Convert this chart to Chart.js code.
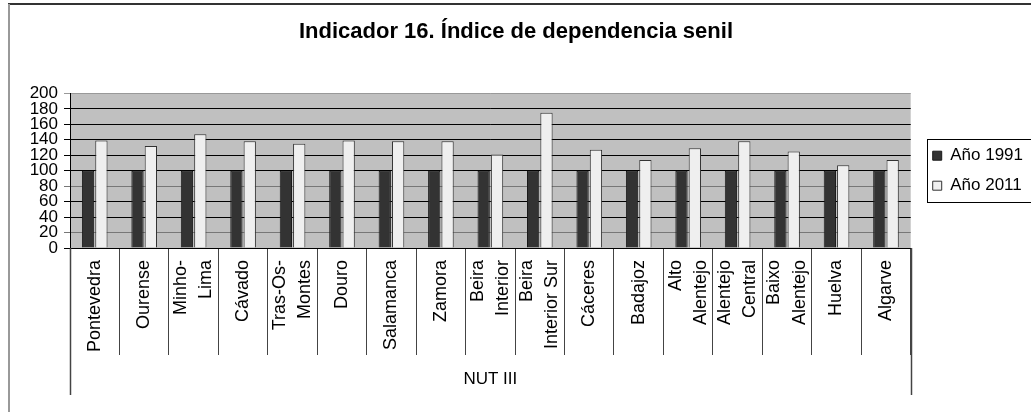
<!DOCTYPE html>
<html>
<head>
<meta charset="utf-8">
<script src="https://cdn.jsdelivr.net/npm/chart.js@4.4.1/dist/chart.umd.min.js"></script>
<style>
  html, body { margin: 0; padding: 0; background: #fff; }
  #wrap { width: 1031px; height: 412px; }
</style>
</head>
<body>
<div id="wrap"><canvas id="chart" width="1031" height="412"></canvas></div>
<script>
// Chart data
const chartTitle = "Indicador 16. Índice de dependencia senil";
const xAxisTitle = "NUT III";
const regions = [
  "Pontevedra", "Ourense", ["Minho-", "Lima"], "Cávado", ["Tras-Os-", "Montes"],
  "Douro", "Salamanca", "Zamora", ["Beira", "Interior"], ["Beira", "Interior Sur"],
  "Cáceres", "Badajoz", ["Alto", "Alentejo"], ["Alentejo", "Central"],
  ["Baixo", "Alentejo"], "Huelva", "Algarve"
];
const seriesNames = ["Año 1991", "Año 2011"];
const values1991 = [100, 100, 100, 100, 100, 100, 100, 100, 100, 100, 100, 100, 100, 100, 100, 100, 100];
const values2011 = [139, 132, 147, 138, 135, 139, 138, 138, 121, 175, 127, 114, 129, 138, 125, 107, 114];
const yMin = 0;
const yMax = 200;
const yStep = 20;

const FONT = "'Liberation Sans', Arial, sans-serif";

// gray plot background, outer frame, legend box and the NUT III bracket
const framePlugin = {
  id: "frame",
  afterLayout(chart) {
    // leave a gap between plot and legend, like the original
    chart.legend.left += 9;
    chart.legend.right += 9;
  },
  beforeDraw(chart) {
    const { ctx, chartArea: a } = chart;
    ctx.save();
    ctx.fillStyle = "#c0c0c0";
    ctx.fillRect(a.left, a.top, a.right - a.left, a.bottom - a.top);
    ctx.restore();

    // center multi-line rotated labels on their tick
    chart.scales.x.getLabelItems().forEach((item) => {
      if (item._centered || !Array.isArray(item.label)) return;
      item.textOffset -= ((item.label.length - 1) * item.font.lineHeight) / 2;
      item._centered = true;
    });
  },
  afterDraw(chart) {
    const { ctx, chartArea: a, legend } = chart;
    ctx.save();

    ctx.lineWidth = 2;
    ctx.strokeStyle = "#333";
    ctx.beginPath();
    ctx.moveTo(8, 4);
    ctx.lineTo(chart.width, 4);
    ctx.stroke();
    ctx.strokeStyle = "#999";
    ctx.beginPath();
    ctx.moveTo(9, 4);
    ctx.lineTo(9, chart.height);
    ctx.stroke();

    ctx.lineWidth = 1.5;
    ctx.strokeStyle = "#444";
    [a.left, a.right].forEach((px) => {
      ctx.beginPath();
      ctx.moveTo(Math.round(px) + 0.5, a.bottom);
      ctx.lineTo(Math.round(px) + 0.5, 395);
      ctx.stroke();
    });

    const boxes = legend.legendHitBoxes;
    if (boxes && boxes.length) {
      const left = Math.min(...boxes.map((b) => b.left)) - 6;
      const top = Math.min(...boxes.map((b) => b.top)) - 8;
      const bottom = Math.max(...boxes.map((b) => b.top + b.height)) + 8;
      ctx.lineWidth = 1;
      ctx.strokeStyle = "#000";
      ctx.strokeRect(Math.round(left) + 0.5, Math.round(top) + 0.5, chart.width, Math.round(bottom - top));
    }
    ctx.restore();
  },
};

new Chart(document.getElementById("chart"), {
  type: "bar",
  data: {
    labels: regions,
    datasets: [
      {
        label: seriesNames[0],
        data: values1991,
        backgroundColor: "#333333",
        borderColor: "#1a1a1a",
        borderWidth: 1,
        categoryPercentage: 0.54,
        barPercentage: 0.92,
      },
      {
        label: seriesNames[1],
        data: values2011,
        backgroundColor: "#efefef",
        borderColor: "#333333",
        borderWidth: 1,
        categoryPercentage: 0.54,
        barPercentage: 0.92,
      },
    ],
  },
  options: {
    responsive: false,
    devicePixelRatio: 1,
    animation: false,
    layout: { padding: { left: 8, right: 7, top: 0, bottom: 0 } },
    plugins: {
      title: {
        display: true,
        text: chartTitle,
        color: "#000",
        font: { family: FONT, size: 22, weight: "bold" },
        padding: { top: 19, bottom: 48 },
      },
      legend: {
        position: "right",
        align: "center",
        fullSize: false,
        labels: {
          boxWidth: 9,
          boxHeight: 9,
          color: "#000",
          padding: 13,
          font: { family: FONT, size: 17 },
        },
      },
      tooltip: { enabled: false },
    },
    scales: {
      x: {
        afterFit: (scale) => { scale.height = 164; },
        border: { color: "#000", width: 1 },
        grid: {
          offset: true,
          drawOnChartArea: false,
          drawTicks: true,
          tickLength: 107,
          color: "#444",
        },
        ticks: {
          color: "#000",
          font: { family: FONT, size: 18, lineHeight: 1.4 },
          minRotation: 90,
          maxRotation: 90,
          autoSkip: false,
          padding: -95,
        },
        title: {
          display: true,
          text: xAxisTitle,
          color: "#000",
          font: { family: FONT, size: 17 },
          padding: { top: 0, bottom: 22 },
        },
      },
      y: {
        min: yMin,
        max: yMax,
        afterFit: (scale) => { scale.width = 62; },
        border: { color: "#000", width: 1 },
        grid: {
          color: (ctx) => {
            const v = ctx.tick ? ctx.tick.value : null;
            if (v === yMax) return "#999";
            if (v === 20 || v === 80) return "#777";
            return "#000";
          },
          tickLength: 6,
        },
        ticks: {
          stepSize: yStep,
          autoSkip: false,
          color: "#000",
          padding: 6,
          font: { family: FONT, size: 17, lineHeight: 1 },
        },
      },
    },
  },
  plugins: [framePlugin],
});
</script>
</body>
</html>
